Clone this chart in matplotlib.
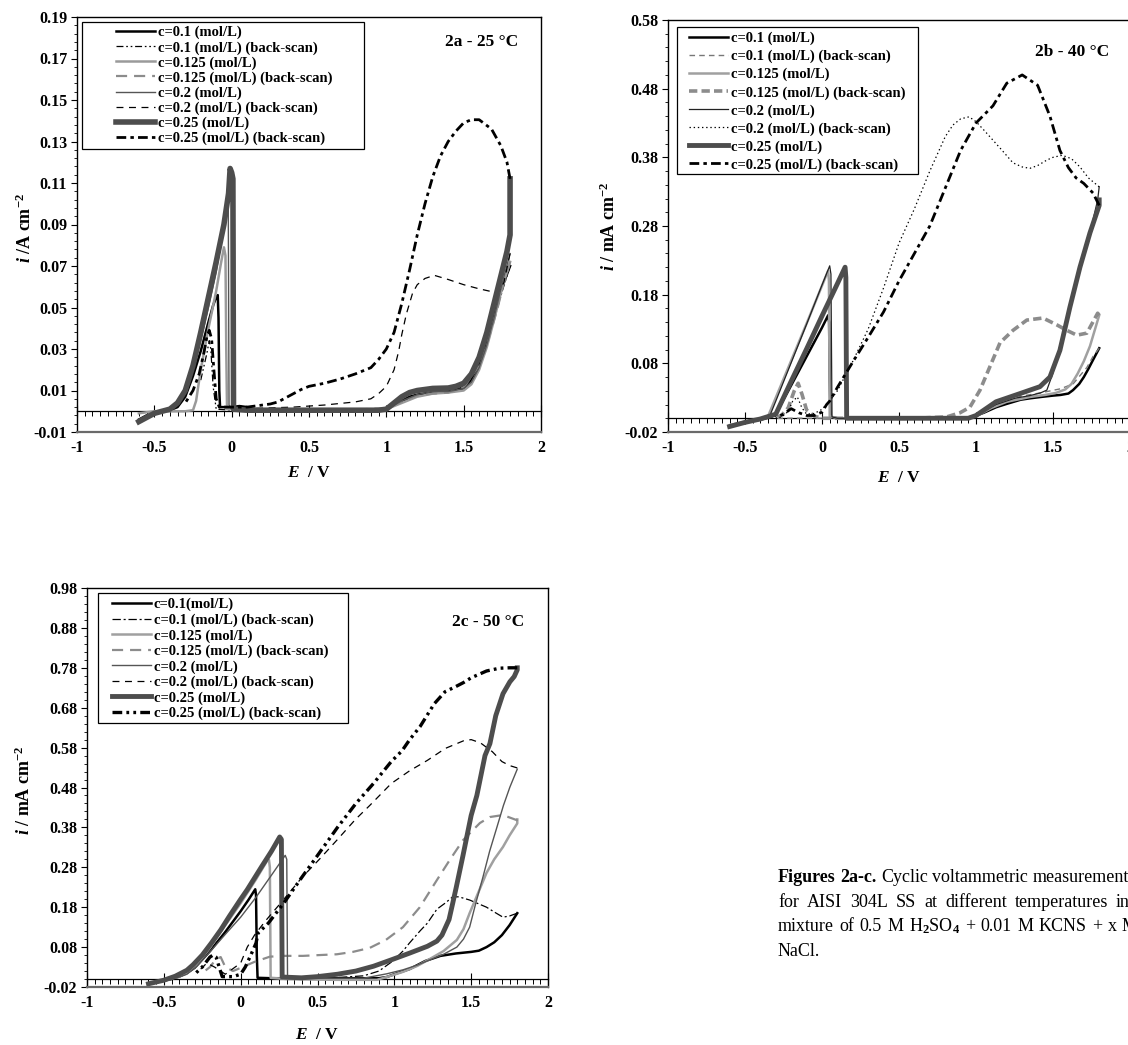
import numpy as np
import matplotlib
matplotlib.use("Agg")
import matplotlib.pyplot as plt
from matplotlib.ticker import FixedLocator, FuncFormatter, MultipleLocator
from matplotlib.patches import Rectangle

# ---------------------------------------------------------------- data
LABELS_AB = ["c=0.1 (mol/L)", "c=0.1 (mol/L) (back-scan)", "c=0.125 (mol/L)",
             "c=0.125 (mol/L) (back-scan)", "c=0.2 (mol/L)", "c=0.2 (mol/L) (back-scan)",
             "c=0.25 (mol/L)", "c=0.25 (mol/L) (back-scan)"]
LABELS_C = ["c=0.1(mol/L)", "c=0.1 (mol/L) (back-scan)", "c=0.125 (mol/L)",
            "c=0.125 (mol/L) (back-scan)", "c=0.2 (mol/L)", "c=0.2 (mol/L) (back-scan)",
            "c=0.25 (mol/L)", "c=0.25 (mol/L) (back-scan)"]
TITLES = ["2a - 25 \u00b0C", "2b - 40 \u00b0C", "2c - 50 \u00b0C"]
X_TICKS = [-1, -0.5, 0, 0.5, 1, 1.5, 2]
A_Y_TICKS = [-0.01, 0.01, 0.03, 0.05, 0.07, 0.09, 0.11, 0.13, 0.15, 0.17, 0.19]
B_Y_TICKS = [-0.02, 0.08, 0.18, 0.28, 0.38, 0.48, 0.58]
C_Y_TICKS = [-0.02, 0.08, 0.18, 0.28, 0.38, 0.48, 0.58, 0.68, 0.78, 0.88, 0.98]

# ---- panel 2a (25 C): (E, i) pairs
A_FWD_01 = [(-0.6, -0.004), (-0.55, -0.002), (-0.5, -0.001), (-0.45, 0.0), (-0.4, 0.0005),
            (-0.35, 0.002), (-0.3, 0.007), (-0.25, 0.017), (-0.2, 0.029), (-0.15, 0.043),
            (-0.12, 0.051), (-0.1, 0.055), (-0.09, 0.056), (-0.085, 0.045), (-0.08, 0.01),
            (-0.075, 0.002), (-0.05, 0.002), (0.0, 0.002), (0.05, 0.0025), (0.1, 0.002),
            (0.15, 0.0005), (0.3, 0.0005), (0.5, 0.0005), (0.7, 0.0005), (0.9, 0.0005),
            (1.0, 0.001), (1.05, 0.003), (1.1, 0.005), (1.15, 0.007), (1.2, 0.008),
            (1.3, 0.0092), (1.4, 0.0095), (1.5, 0.011), (1.55, 0.015), (1.6, 0.022),
            (1.65, 0.033), (1.7, 0.047), (1.75, 0.06), (1.8, 0.07)]
A_BACK_01 = [(1.8, 0.07), (1.75, 0.058), (1.7, 0.045), (1.6, 0.023), (1.5, 0.012), (1.4, 0.009),
             (1.3, 0.0085), (1.2, 0.0075), (1.1, 0.0045), (1.0, 0.0012), (0.5, 0.0005),
             (0.0, 0.0005), (-0.1, 0.001), (-0.12, 0.012), (-0.135, 0.03), (-0.145, 0.034),
             (-0.16, 0.028), (-0.2, 0.015)]
A_FWD_0125 = [(-0.6, -0.001), (-0.5, 0.0), (-0.3, 0.0), (-0.25, 0.0005), (-0.23, 0.005),
              (-0.2, 0.02), (-0.15, 0.04), (-0.1, 0.058), (-0.07, 0.071), (-0.05, 0.079),
              (-0.04, 0.075), (-0.035, 0.03), (-0.03, 0.001), (0.5, 0.0), (0.95, 0.0),
              (1.0, 0.001), (1.1, 0.004), (1.2, 0.007), (1.3, 0.0085), (1.4, 0.009), (1.5, 0.01),
              (1.55, 0.013), (1.6, 0.02), (1.65, 0.031), (1.7, 0.045), (1.75, 0.06), (1.8, 0.072)]
A_BACK_0125 = [(1.8, 0.072), (1.76, 0.062), (1.72, 0.05), (1.65, 0.032), (1.6, 0.022),
               (1.5, 0.0115), (1.4, 0.009), (1.3, 0.0085), (1.2, 0.0075), (1.1, 0.0045),
               (1.0, 0.0015), (0.8, 0.0008), (0.5, 0.0005), (0.0, 0.0005)]
A_FWD_02 = [(-0.6, -0.004), (-0.5, -0.001), (-0.4, 0.001), (-0.35, 0.004), (-0.3, 0.009),
            (-0.25, 0.02), (-0.2, 0.034), (-0.15, 0.05), (-0.1, 0.067), (-0.06, 0.085),
            (-0.03, 0.104), (-0.022, 0.1), (-0.017, 0.003), (0.0, 0.001), (0.5, 0.0005),
            (0.95, 0.0005), (1.0, 0.001), (1.1, 0.005), (1.2, 0.008), (1.3, 0.0095),
            (1.4, 0.0095), (1.5, 0.011), (1.55, 0.014), (1.6, 0.021), (1.65, 0.032),
            (1.7, 0.046), (1.75, 0.062), (1.8, 0.076)]
A_BACK_02 = [(1.8, 0.076), (1.76, 0.062), (1.72, 0.057), (1.6, 0.059), (1.5, 0.061),
             (1.4, 0.0635), (1.31, 0.0655), (1.25, 0.064), (1.2, 0.061), (1.17, 0.057),
             (1.13, 0.047), (1.1, 0.037), (1.08, 0.029), (1.05, 0.02), (1.0, 0.012),
             (0.95, 0.0085), (0.9, 0.006), (0.8, 0.0045), (0.6, 0.003), (0.4, 0.002),
             (0.2, 0.0015), (0.0, 0.001)]
A_FWD_025 = [(-0.6, -0.005), (-0.55, -0.003), (-0.5, -0.001), (-0.45, 0.0), (-0.4, 0.001),
             (-0.35, 0.004), (-0.3, 0.01), (-0.25, 0.022), (-0.2, 0.038), (-0.15, 0.055),
             (-0.1, 0.072), (-0.05, 0.09), (-0.02, 0.105), (-0.01, 0.117), (0.0, 0.115),
             (0.008, 0.112), (0.012, 0.001), (0.1, 0.0005), (0.5, 0.0005), (0.95, 0.0005),
             (1.0, 0.001), (1.05, 0.004), (1.1, 0.007), (1.15, 0.009), (1.2, 0.01), (1.3, 0.011),
             (1.4, 0.0112), (1.45, 0.012), (1.5, 0.0135), (1.55, 0.018), (1.6, 0.026),
             (1.65, 0.038), (1.7, 0.053), (1.75, 0.068), (1.78, 0.077), (1.8, 0.085), (1.8, 0.112)]
A_BACK_025 = [(1.8, 0.112), (1.78, 0.12), (1.74, 0.128), (1.68, 0.136), (1.6, 0.1405),
              (1.55, 0.1405), (1.5, 0.139), (1.45, 0.135), (1.4, 0.13), (1.35, 0.123),
              (1.3, 0.113), (1.25, 0.1), (1.2, 0.085), (1.15, 0.068), (1.1, 0.052), (1.05, 0.038),
              (1.0, 0.03), (0.95, 0.025), (0.9, 0.021), (0.8, 0.018), (0.7, 0.0155), (0.6, 0.0135),
              (0.5, 0.012), (0.45, 0.0105), (0.4, 0.0085), (0.35, 0.0065), (0.3, 0.0045),
              (0.25, 0.0035), (0.2, 0.003), (0.1, 0.002), (0.0, 0.002), (-0.08, 0.002),
              (-0.1, 0.006), (-0.115, 0.02), (-0.13, 0.035), (-0.145, 0.039), (-0.16, 0.036),
              (-0.18, 0.028), (-0.21, 0.018), (-0.25, 0.01), (-0.3, 0.004)]

# ---- panel 2b (40 C)
B_FWD_01 = [(-0.6, -0.012), (-0.5, -0.006), (-0.4, -0.002), (-0.33, 0.002), (-0.3, 0.006),
            (-0.2, 0.048), (-0.1, 0.09), (0.0, 0.132), (0.04, 0.15), (0.046, 0.14), (0.05, 0.06),
            (0.055, 0.002), (0.1, 0.0), (0.5, 0.0), (0.9, 0.0), (0.98, 0.002), (1.05, 0.008),
            (1.13, 0.016), (1.2, 0.021), (1.29, 0.027), (1.35, 0.029), (1.42, 0.031), (1.5, 0.033),
            (1.55, 0.034), (1.6, 0.036), (1.63, 0.041), (1.67, 0.05), (1.7, 0.06), (1.73, 0.072),
            (1.76, 0.085), (1.8, 0.102)]
B_BACK_01 = [(1.8, 0.102), (1.76, 0.09), (1.72, 0.074), (1.675, 0.062), (1.63, 0.05),
             (1.55, 0.043), (1.42, 0.037), (1.29, 0.032), (1.13, 0.02), (1.05, 0.01),
             (0.98, 0.003), (0.8, 0.0), (0.4, 0.0), (0.0, 0.0), (-0.3, 0.0)]
B_FWD_0125 = [(-0.6, -0.01), (-0.5, -0.005), (-0.4, -0.001), (-0.35, 0.003), (-0.3, 0.03),
              (-0.2, 0.084), (-0.1, 0.138), (0.0, 0.193), (0.04, 0.215), (0.045, 0.2),
              (0.05, 0.003), (0.1, 0.0), (0.5, 0.0), (0.9, 0.0), (1.0, 0.003), (1.1, 0.015),
              (1.2, 0.024), (1.35, 0.031), (1.45, 0.034), (1.52, 0.037), (1.58, 0.042),
              (1.62, 0.05), (1.66, 0.065), (1.7, 0.083), (1.74, 0.105), (1.78, 0.135), (1.8, 0.15)]
B_BACK_0125 = [(1.8, 0.15), (1.79, 0.153), (1.72, 0.124), (1.655, 0.121), (1.59, 0.128),
               (1.525, 0.136), (1.435, 0.146), (1.33, 0.143), (1.24, 0.128), (1.156, 0.11),
               (1.09, 0.075), (1.026, 0.041), (0.96, 0.016), (0.896, 0.008), (0.81, 0.002),
               (0.6, 0.0), (0.3, 0.0), (0.0, 0.0), (-0.05, 0.003), (-0.1, 0.012), (-0.13, 0.035),
               (-0.155, 0.051), (-0.18, 0.04), (-0.22, 0.015), (-0.26, 0.005), (-0.3, 0.0)]
B_FWD_02 = [(-0.6, -0.011), (-0.5, -0.005), (-0.4, -0.001), (-0.34, 0.003), (-0.3, 0.025),
            (-0.2, 0.081), (-0.1, 0.137), (0.0, 0.194), (0.05, 0.222), (0.058, 0.21),
            (0.065, 0.002), (0.1, 0.0), (0.5, 0.0), (0.9, 0.0), (0.98, 0.002), (1.05, 0.01),
            (1.13, 0.02), (1.25, 0.029), (1.35, 0.033), (1.42, 0.037), (1.46, 0.041), (1.5, 0.066),
            (1.565, 0.124), (1.655, 0.197), (1.74, 0.27), (1.79, 0.318), (1.8, 0.337)]
B_BACK_02 = [(1.8, 0.337), (1.73, 0.35), (1.675, 0.366), (1.62, 0.378), (1.56, 0.383),
             (1.5, 0.38), (1.46, 0.376), (1.4, 0.368), (1.35, 0.364), (1.3, 0.366), (1.24, 0.372),
             (1.17, 0.39), (1.11, 0.405), (1.05, 0.42), (1.0, 0.432), (0.955, 0.439), (0.9, 0.436),
             (0.85, 0.427), (0.8, 0.41), (0.7, 0.36), (0.6, 0.305), (0.5, 0.255), (0.4, 0.19),
             (0.3, 0.13), (0.2, 0.083), (0.1, 0.04), (0.05, 0.025), (0.0, 0.013), (-0.05, 0.007),
             (-0.1, 0.006), (-0.13, 0.015), (-0.16, 0.031), (-0.19, 0.025), (-0.22, 0.01),
             (-0.26, 0.002), (-0.3, 0.0)]
B_FWD_025 = [(-0.6, -0.012), (-0.5, -0.006), (-0.4, -0.001), (-0.3, 0.006), (-0.2, 0.054),
             (-0.1, 0.101), (0.0, 0.149), (0.1, 0.196), (0.15, 0.22), (0.155, 0.205), (0.16, 0.0),
             (0.5, 0.0), (0.95, 0.0), (1.0, 0.004), (1.13, 0.024), (1.286, 0.036), (1.415, 0.046),
             (1.48, 0.06), (1.545, 0.099), (1.61, 0.162), (1.675, 0.22), (1.74, 0.27), (1.8, 0.31),
             (1.8, 0.318)]
B_BACK_025 = [(1.8, 0.31), (1.76, 0.328), (1.7, 0.342), (1.65, 0.35), (1.6, 0.365), (1.545, 0.39),
              (1.48, 0.44), (1.4, 0.485), (1.3, 0.5), (1.2, 0.488), (1.11, 0.455), (1.0, 0.43),
              (0.9, 0.39), (0.8, 0.335), (0.7, 0.28), (0.6, 0.24), (0.5, 0.2), (0.4, 0.155),
              (0.3, 0.118), (0.2, 0.082), (0.1, 0.045), (0.05, 0.025), (0.03, 0.02), (0.0, 0.009),
              (-0.05, 0.004), (-0.1, 0.004), (-0.15, 0.008), (-0.2, 0.014), (-0.25, 0.006),
              (-0.3, 0.001)]

# ---- panel 2c (50 C)
C_FWD_01 = [(-0.6, -0.012), (-0.5, -0.004), (-0.45, 0.0), (-0.4, 0.006), (-0.35, 0.015),
            (-0.3, 0.028), (-0.2, 0.07), (-0.1, 0.118), (0.0, 0.17), (0.05, 0.198), (0.095, 0.225),
            (0.1, 0.21), (0.105, 0.06), (0.11, 0.003), (0.2, 0.002), (0.4, 0.002), (0.7, 0.002),
            (0.9, 0.002), (0.95, 0.005), (1.0, 0.012), (1.1, 0.025), (1.2, 0.045), (1.3, 0.058),
            (1.4, 0.064), (1.5, 0.068), (1.55, 0.071), (1.6, 0.08), (1.65, 0.092), (1.7, 0.11),
            (1.75, 0.135), (1.8, 0.165)]
C_BACK_01 = [(1.8, 0.165), (1.75, 0.158), (1.707, 0.155), (1.65, 0.168), (1.6, 0.18),
             (1.49, 0.198), (1.42, 0.206), (1.38, 0.206), (1.33, 0.19), (1.277, 0.175),
             (1.215, 0.14), (1.166, 0.12), (1.098, 0.09), (1.056, 0.07), (0.99, 0.045),
             (0.9, 0.02), (0.8, 0.008), (0.6, 0.003), (0.3, 0.003), (0.2, 0.003)]
C_FWD_0125 = [(-0.6, -0.012), (-0.5, -0.004), (-0.4, 0.006), (-0.35, 0.016), (-0.3, 0.03),
              (-0.2, 0.078), (-0.1, 0.135), (0.0, 0.19), (0.1, 0.25), (0.17, 0.295), (0.184, 0.299),
              (0.19, 0.28), (0.195, 0.003), (0.3, 0.0), (0.6, -0.002), (0.887, -0.002),
              (0.95, 0.005), (1.056, 0.018), (1.15, 0.033), (1.23, 0.05), (1.32, 0.07),
              (1.407, 0.098), (1.45, 0.125), (1.49, 0.165), (1.55, 0.22), (1.6, 0.266), (1.65, 0.3),
              (1.707, 0.331), (1.75, 0.36), (1.8, 0.39), (1.8, 0.4)]
C_BACK_0125 = [(1.8, 0.4), (1.798, 0.398), (1.707, 0.411), (1.622, 0.406), (1.557, 0.391),
               (1.447, 0.348), (1.36, 0.298), (1.277, 0.248), (1.166, 0.18), (1.056, 0.13),
               (0.945, 0.098), (0.84, 0.078), (0.73, 0.068), (0.626, 0.062), (0.512, 0.06),
               (0.405, 0.058), (0.277, 0.058), (0.19, 0.056), (0.09, 0.043), (0.0, 0.028),
               (-0.05, 0.02), (-0.1, 0.03), (-0.13, 0.055), (-0.16, 0.05), (-0.2, 0.03),
               (-0.25, 0.015)]
C_FWD_02 = [(-0.6, -0.012), (-0.5, -0.004), (-0.4, 0.005), (-0.35, 0.012), (-0.285, 0.032),
            (-0.2, 0.068), (-0.1, 0.112), (0.0, 0.155), (0.1, 0.205), (0.2, 0.26), (0.29, 0.31),
            (0.3, 0.3), (0.305, 0.003), (0.5, 0.002), (0.8, 0.002), (0.84, 0.005), (0.95, 0.013),
            (1.056, 0.023), (1.15, 0.035), (1.23, 0.048), (1.32, 0.062), (1.407, 0.08),
            (1.45, 0.1), (1.49, 0.13), (1.53, 0.19), (1.577, 0.256), (1.62, 0.32), (1.668, 0.381),
            (1.71, 0.435), (1.752, 0.481), (1.8, 0.526)]
C_BACK_02 = [(1.8, 0.529), (1.75, 0.535), (1.7, 0.545), (1.637, 0.57), (1.56, 0.592), (1.5, 0.6),
             (1.45, 0.597), (1.332, 0.578), (1.215, 0.548), (1.1, 0.522), (0.98, 0.49),
             (0.84, 0.435), (0.747, 0.4), (0.626, 0.348), (0.512, 0.3), (0.4, 0.255),
             (0.277, 0.198), (0.16, 0.145), (0.09, 0.11), (0.043, 0.08), (0.0, 0.04),
             (-0.1, 0.012), (-0.17, 0.03), (-0.22, 0.04), (-0.26, 0.025)]
C_FWD_025 = [(-0.6, -0.012), (-0.5, -0.003), (-0.426, 0.007), (-0.35, 0.022), (-0.309, 0.036),
             (-0.25, 0.06), (-0.191, 0.09), (-0.13, 0.123), (-0.074, 0.157), (0.0, 0.2),
             (0.043, 0.224), (0.137, 0.282), (0.2, 0.32), (0.254, 0.356), (0.265, 0.35),
             (0.27, 0.005), (0.395, 0.003), (0.5, 0.006), (0.63, 0.012), (0.75, 0.02),
             (0.864, 0.032), (0.98, 0.048), (1.1, 0.065), (1.215, 0.082), (1.277, 0.095),
             (1.31, 0.11), (1.356, 0.149), (1.38, 0.19), (1.403, 0.23), (1.447, 0.31), (1.5, 0.41),
             (1.537, 0.46), (1.59, 0.56), (1.622, 0.59), (1.66, 0.66), (1.707, 0.715),
             (1.752, 0.745), (1.78, 0.758), (1.8, 0.775), (1.8, 0.78)]
C_BACK_025 = [(1.8, 0.78), (1.75, 0.78), (1.684, 0.779), (1.6, 0.772), (1.5, 0.755),
              (1.45, 0.743), (1.4, 0.733), (1.33, 0.72), (1.26, 0.69), (1.168, 0.633), (1.1, 0.6),
              (1.05, 0.572), (0.98, 0.545), (0.864, 0.49), (0.75, 0.44), (0.63, 0.38),
              (0.51, 0.315), (0.4, 0.256), (0.28, 0.19), (0.18, 0.14), (0.113, 0.115), (0.1, 0.09),
              (0.066, 0.06), (0.03, 0.03), (0.0, 0.012), (-0.05, 0.006), (-0.12, 0.006),
              (-0.14, 0.03), (-0.16, 0.055), (-0.18, 0.06), (-0.2, 0.055), (-0.25, 0.03),
              (-0.3, 0.012)]

CAPTION_LINES = [
    ["Figures", "2a-c.", "Cyclic", "voltammetric", "measurements"],
    ["for", "AISI", "304L", "SS", "at", "different", "temperatures", "in", "a"],
    ["mixture", "of", "0.5", "M", "H$_2$SO$_4$", "+", "0.01", "M", "KCNS", "+", "x", "M"],
    ["NaCl."],
]

# ---------------------------------------------------------------- style
W, H = 1128, 1045
plt.rcParams['font.family'] = ['Liberation Serif', 'DejaVu Serif']
plt.rcParams['font.weight'] = 'bold'
plt.rcParams['mathtext.fontset'] = 'custom'
plt.rcParams['mathtext.rm'] = 'Liberation Serif'
plt.rcParams['mathtext.it'] = 'Liberation Serif:italic:bold'
plt.rcParams['mathtext.bf'] = 'Liberation Serif:bold'
plt.rcParams['lines.scale_dashes'] = False
plt.rcParams['axes.linewidth'] = 1.0

DDOT = (0, (5, 2, 1.2, 2, 1.2, 2))
DASHDOT = (0, (7, 3, 2.5, 3))
STYLE_A = [dict(color='black', lw=1.8, ls='-'),
           dict(color='black', lw=0.9, ls=DDOT),
           dict(color='#9a9a9a', lw=1.8, ls='-'),
           dict(color='#8c8c8c', lw=1.6, ls=(0, (8, 5))),
           dict(color='#555555', lw=1.0, ls='-'),
           dict(color='black', lw=0.9, ls=(0, (5, 4))),
           dict(color='#4d4d4d', lw=4.0, ls='-'),
           dict(color='black', lw=2.0, ls=DASHDOT)]
STYLE_B = [dict(color='black', lw=1.8, ls='-'),
           dict(color='#777777', lw=1.0, ls=(0, (4, 3))),
           dict(color='#a0a0a0', lw=1.8, ls='-'),
           dict(color='#8c8c8c', lw=2.6, ls=(0, (6, 3))),
           dict(color='#222222', lw=0.9, ls='-'),
           dict(color='black', lw=0.9, ls=(0, (1, 2))),
           dict(color='#4d4d4d', lw=3.5, ls='-'),
           dict(color='black', lw=2.0, ls=DASHDOT)]
STYLE_C = [dict(color='black', lw=1.8, ls='-'),
           dict(color='black', lw=0.9, ls=(0, (6, 2, 1.5, 2))),
           dict(color='#a0a0a0', lw=1.8, ls='-'),
           dict(color='#8c8c8c', lw=1.6, ls=(0, (8, 5))),
           dict(color='#555555', lw=1.0, ls='-'),
           dict(color='black', lw=0.9, ls=(0, (5, 4))),
           dict(color='#4d4d4d', lw=3.5, ls='-'),
           dict(color='black', lw=2.4, ls=(0, (7, 3, 2, 3, 2, 3)))]

TICK_FS = 11.5
LEG_FS = 10.5

fig = plt.figure(figsize=(W / 100, H / 100), dpi=100, facecolor='white')


def frac(x, y):
    return x / W, 1 - y / H


def panel(rect, ylim, yticks, ystep_minor, series, styles, labels, title, title_px,
          ylabel, ylab_px, xlab_px, leg_box, leg_anchor, leg_space):
    l, t, r, b = rect
    ax = fig.add_axes([l / W, 1 - b / H, (r - l) / W, (b - t) / H])
    handles = []
    for pts, st in zip(series, styles):
        xs, ys = zip(*pts)
        ln, = ax.plot(xs, ys, color=st['color'], lw=st['lw'], ls=st['ls'],
                      solid_joinstyle='round', dash_capstyle='butt')
        handles.append(ln)
    ax.set_xlim(-1, 2)
    ax.set_ylim(*ylim)
    ax.xaxis.set_major_locator(FixedLocator(X_TICKS))
    ax.xaxis.set_major_formatter(FuncFormatter(lambda v, p: f"{v:g}"))
    ax.tick_params(axis='x', length=0, pad=6, labelsize=TICK_FS)
    ax.yaxis.set_major_locator(FixedLocator(yticks))
    ax.yaxis.set_minor_locator(FixedLocator(np.arange(ylim[0], ylim[1] + 1e-9, ystep_minor)))
    ax.yaxis.set_major_formatter(FuncFormatter(lambda v, p: f"{v:.2f}"))
    ax.tick_params(axis='y', which='major', direction='out', length=4, width=0.8,
                   labelsize=TICK_FS, pad=3)
    ax.tick_params(axis='y', which='minor', direction='out', length=2.5, width=0.6)
    for s in ('left', 'top', 'right'):
        ax.spines[s].set_color('black')
        ax.spines[s].set_linewidth(1.0)
    ax.spines['bottom'].set_color('#6a6a6a')
    ax.spines['bottom'].set_linewidth(1.6)
    # horizontal axis crossing at i = 0
    loc0 = (0 - ylim[0]) / (ylim[1] - ylim[0])
    sec = ax.secondary_xaxis(loc0)
    sec.xaxis.set_major_locator(FixedLocator(X_TICKS))
    sec.xaxis.set_minor_locator(MultipleLocator(0.05))
    sec.tick_params(which='major', direction='inout', length=8, width=0.8, labelbottom=False)
    sec.tick_params(which='minor', direction='out', length=3.5, width=0.7, labelbottom=False)
    sec.spines['bottom'].set_color('black')
    sec.spines['bottom'].set_linewidth(0.9)
    # labels
    ax.set_ylabel(ylabel, fontsize=13, fontweight='bold')
    ax.yaxis.label.set_va('center')
    ax.yaxis.set_label_coords((ylab_px[0] - l) / (r - l), (b - ylab_px[1]) / (b - t))
    ax.set_xlabel(r"$\mathit{E}$  / V", fontsize=12.5, fontweight='bold')
    ax.xaxis.label.set_va('center')
    ax.xaxis.set_label_coords((xlab_px[0] - l) / (r - l), (b - xlab_px[1]) / (b - t))
    ax.text((title_px[0] - l) / (r - l), (b - title_px[1]) / (b - t), title,
            transform=ax.transAxes, ha='center', va='center', fontsize=12.5, fontweight='bold')
    # legend box + entries
    bl, bt, br, bb = leg_box
    x0, y0 = frac(bl, bb)
    box = Rectangle((x0, y0), (br - bl) / W, (bb - bt) / H, transform=fig.transFigure,
                    facecolor='white', edgecolor='black', lw=0.9, zorder=4, clip_on=False)
    ax.add_patch(box)
    leg = ax.legend(handles, labels, loc='upper left', bbox_to_anchor=frac(*leg_anchor),
                    bbox_transform=fig.transFigure, frameon=False, borderpad=0,
                    borderaxespad=0, handlelength=2.7, handletextpad=0.15,
                    labelspacing=leg_space, prop=dict(size=LEG_FS, weight='bold'))
    leg.set_zorder(5)
    return ax


panel((77, 17, 541, 432), (-0.01, 0.19), A_Y_TICKS, 0.004,
      [A_FWD_01, A_BACK_01, A_FWD_0125, A_BACK_0125, A_FWD_02, A_BACK_02, A_FWD_025, A_BACK_025],
      STYLE_A, LABELS_AB, TITLES[0], (482, 42),
      r"$\mathit{i}$ /A cm$^{\mathbf{-2}}$", (25, 228), (309, 473),
      (82, 22, 364, 149), (116, 26), 0.11)

panel((668, 20, 1130, 432), (-0.02, 0.58), B_Y_TICKS, 0.02,
      [B_FWD_01, B_BACK_01, B_FWD_0125, B_BACK_0125, B_FWD_02, B_BACK_02, B_FWD_025, B_BACK_025],
      STYLE_B, LABELS_AB, TITLES[1], (1072, 52),
      r"$\mathit{i}$ / mA cm$^{\mathbf{-2}}$", (609, 226), (899, 478),
      (677, 27, 918, 174), (689, 32), 0.31)

panel((87, 588, 548, 987), (-0.02, 0.98), C_Y_TICKS, 0.02,
      [C_FWD_01, C_BACK_01, C_FWD_0125, C_BACK_0125, C_FWD_02, C_BACK_02, C_FWD_025, C_BACK_025],
      STYLE_C, LABELS_C, TITLES[2], (488, 622),
      r"$\mathit{i}$ / mA cm$^{\mathbf{-2}}$", (24, 790), (317, 1035),
      (98, 593, 348, 723), (112, 598), 0.14)

# ---------------------------------------------------------------- caption
renderer = fig.canvas.get_renderer()
CAP_LEFT = 778
CAP_RIGHT = [1136, 1146, 1138, None]
CAP_BASE = [882, 907, 931, 956]
for li, (words, yb) in enumerate(zip(CAPTION_LINES, CAP_BASE)):
    nbold = 2 if li == 0 else 0
    texts = []
    for wi, w in enumerate(words):
        tx = fig.text(CAP_LEFT / W, 1 - yb / H, w, fontsize=13,
                      fontweight='bold' if wi < nbold else 'normal',
                      ha='left', va='baseline')
        texts.append(tx)
    widths = [tx.get_window_extent(renderer).width for tx in texts]
    if len(texts) > 1 and CAP_RIGHT[li] is not None:
        gap = (CAP_RIGHT[li] - CAP_LEFT - sum(widths)) / (len(texts) - 1)
    else:
        gap = 4.5
    xcur = CAP_LEFT
    for tx, wd in zip(texts, widths):
        tx.set_x(xcur / W)
        xcur += wd + gap

fig.savefig("out.png", dpi=100, facecolor='white')
